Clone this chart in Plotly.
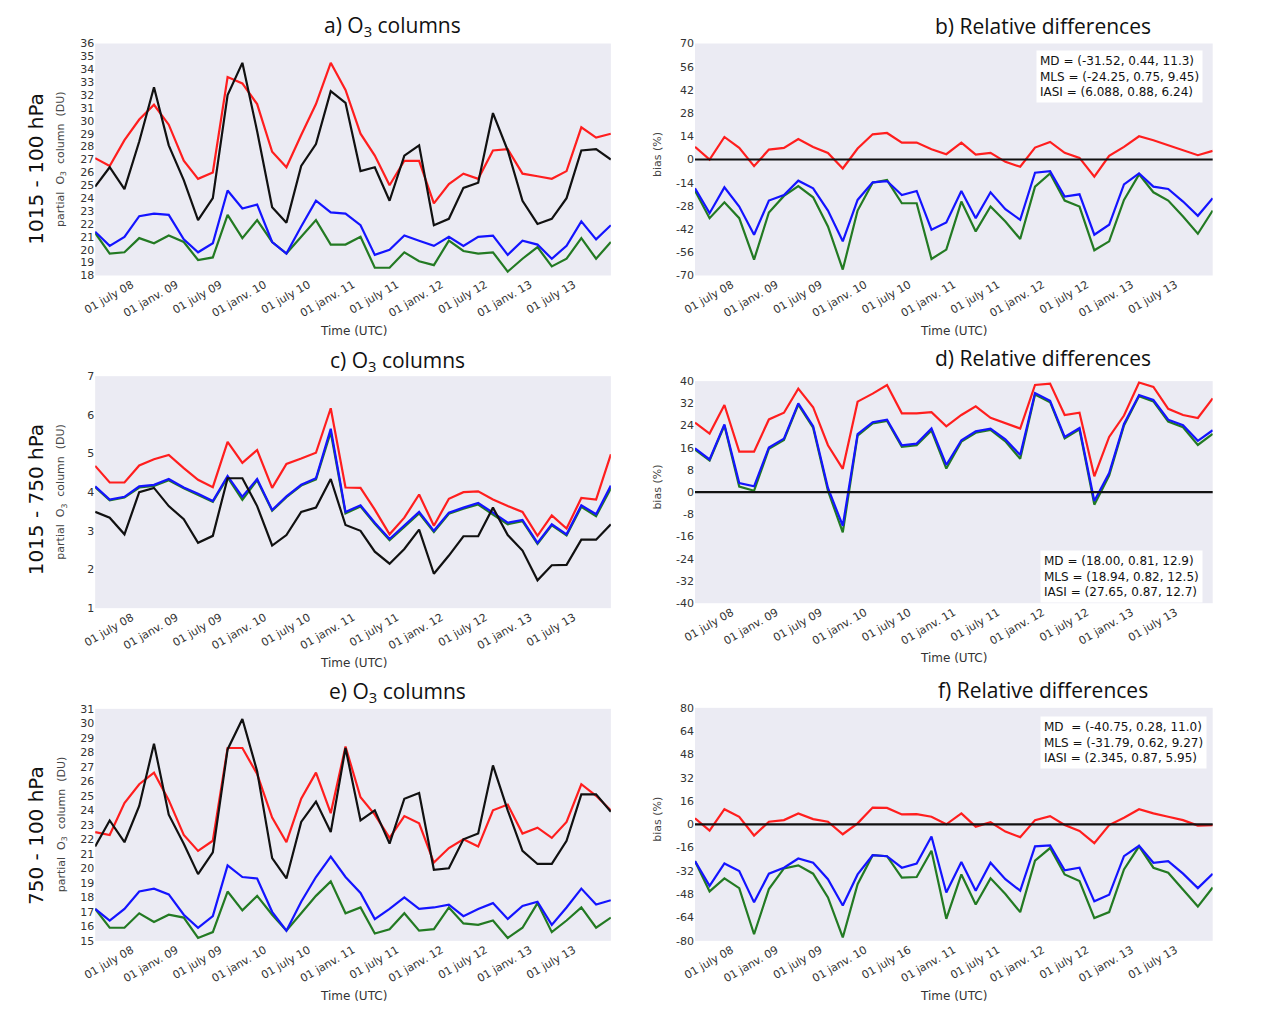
import plotly.graph_objects as go

# ---------------- data ----------------
dates = ["2008-02-01", "2008-04-01", "2008-06-01", "2008-08-01", "2008-10-01", "2008-12-01",
         "2009-02-01", "2009-04-01", "2009-06-01", "2009-08-01", "2009-10-01", "2009-12-01",
         "2010-02-01", "2010-04-01", "2010-06-01", "2010-08-01", "2010-10-01", "2010-12-01",
         "2011-02-01", "2011-04-01", "2011-06-01", "2011-08-01", "2011-10-01", "2011-12-01",
         "2012-02-01", "2012-04-01", "2012-06-01", "2012-08-01", "2012-10-01", "2012-12-01",
         "2013-02-01", "2013-04-01", "2013-06-01", "2013-08-01", "2013-10-01", "2013-12-01"]

tick_dates = ["2008-07-01", "2009-01-01", "2009-07-01", "2010-01-01", "2010-07-01", "2011-01-01",
              "2011-07-01", "2012-01-01", "2012-07-01", "2013-01-01", "2013-07-01"]
tick_labels = ["01 july 08", "01 janv. 09", "01 july 09", "01 janv. 10", "01 july 10", "01 janv. 11",
               "01 july 11", "01 janv. 12", "01 july 12", "01 janv. 13", "01 july 13"]
tick_labels_f = ["01 july 08", "01 janv. 09", "01 july 09", "01 janv. 10", "01 july 16", "01 janv. 11",
                 "01 july 11", "01 janv. 12", "01 july 12", "01 janv. 13", "01 july 13"]

# a) 1015-100 hPa O3 columns (DU)
a_sonde = [24.9, 26.4, 24.7, 28.4, 32.6, 28.1, 25.4, 22.3, 24.0, 32.0, 34.5, 29.2, 23.3, 22.1, 26.5, 28.2, 32.3, 31.4,
           26.1, 26.4, 23.8, 27.3, 28.1, 21.9, 22.4, 24.8, 25.2, 30.6, 27.7, 23.8, 22.0, 22.4, 24.0, 27.7, 27.8, 27.0]
a_iasi = [27.1, 26.5, 28.5, 30.1, 31.25, 29.7, 26.9, 25.5, 26.0, 33.4, 32.9, 31.3, 27.6, 26.4, 28.9, 31.3, 34.5, 32.4,
          29.0, 27.3, 25.0, 26.9, 26.9, 23.6, 25.1, 25.9, 25.5, 27.7, 27.8, 25.9, 25.7, 25.5, 26.1, 29.5, 28.7, 29.0]
a_mls = [21.4, 20.3, 21.0, 22.6, 22.8, 22.7, 20.8, 19.8, 20.5, 24.6, 23.2, 23.5, 20.6, 19.7, 21.8, 23.8, 22.9, 22.8,
         21.9, 19.6, 20.0, 21.1, 20.7, 20.3, 21.0, 20.3, 21.0, 21.1, 19.6, 20.7, 20.4, 19.3, 20.3, 22.2, 20.8, 21.9]
a_md = [21.3, 19.7, 19.8, 20.9, 20.5, 21.1, 20.6, 19.2, 19.4, 22.7, 20.9, 22.3, 20.6, 19.7, 21.0, 22.3, 20.4, 20.4,
        21.0, 18.6, 18.6, 19.8, 19.1, 18.8, 20.7, 19.9, 19.7, 19.8, 18.3, 19.3, 20.2, 18.7, 19.3, 20.9, 19.3, 20.6]

# b) relative differences (%)
b_iasi = [7.6, 0, 13.6, 7, -4, 6, 7, 12.4, 7.6, 4, -5.4, 6.6, 15.2, 16, 10.2, 10.2, 6.2, 3.2,
          10.2, 3, 4, -1.4, -4.4, 7.2, 10.6, 4, 1, -10.4, 2.2, 7.6, 14, 11.6, 8.6, 5.6, 2.6, 5.2]
b_mls = [-17.4, -32.4, -16.8, -28.4, -45.4, -24.8, -21.4, -12.8, -17.4, -30.8, -49.4, -24.4, -13.8, -13, -21.4, -19,
         -42.4, -38, -19, -35.4, -19.8, -30, -36.4, -8, -7, -22.4, -21, -45.4, -39.4, -15, -8.4, -16.4, -17.8,
         -25.4, -34, -23.4]
b_md = [-18.8, -35.4, -25.8, -35.4, -60.4, -32, -22, -16, -22.8, -40.4, -66.4, -30.8, -14, -12.4, -26.4, -26.4,
        -60, -54.4, -25.4, -43.4, -28.4, -37.4, -48, -16.4, -8.4, -24.8, -28.4, -54.8, -49.4, -24.4, -9, -19.8,
        -24.8, -34.4, -44.8, -30.8]

# c) 1015-750 hPa O3 columns (DU)
c_sonde = [3.49, 3.34, 2.91, 4.0, 4.11, 3.64, 3.3, 2.69, 2.87, 4.36, 4.36, 3.64, 2.62, 2.89, 3.49, 3.6, 4.34, 3.15,
           3.0, 2.46, 2.15, 2.53, 3.03, 1.89, 2.36, 2.86, 2.86, 3.6, 2.89, 2.49, 1.72, 2.11, 2.12, 2.77, 2.77, 3.17]
c_iasi = [4.68, 4.25, 4.25, 4.69, 4.85, 4.96, 4.62, 4.32, 4.13, 5.30, 4.76, 5.09, 4.11, 4.73, 4.87, 5.02, 6.17, 4.12,
          4.11, 3.55, 2.91, 3.34, 3.94, 3.13, 3.83, 4.0, 4.02, 3.81, 3.64, 3.49, 2.87, 3.4, 3.06, 3.85, 3.81, 4.98]
c_mls = [4.15, 3.81, 3.88, 4.15, 4.19, 4.34, 4.12, 3.96, 3.77, 4.42, 3.88, 4.34, 3.54, 3.89, 4.19, 4.36, 5.64, 3.49,
         3.66, 3.21, 2.79, 3.13, 3.49, 3.0, 3.47, 3.6, 3.72, 3.47, 3.21, 3.28, 2.69, 3.17, 2.91, 3.66, 3.43, 4.17]
c_md = [4.13, 3.79, 3.86, 4.12, 4.16, 4.31, 4.10, 3.93, 3.75, 4.38, 3.80, 4.31, 3.52, 3.87, 4.17, 4.33, 5.55, 3.45,
        3.63, 3.18, 2.76, 3.10, 3.45, 2.97, 3.44, 3.57, 3.68, 3.42, 3.17, 3.25, 2.66, 3.14, 2.88, 3.62, 3.38, 4.10]

# d) relative differences (%)
d_iasi = [25.0, 21.1, 31.4, 14.6, 14.6, 26.2, 28.6, 37.3, 30.6, 16.9, 8.4, 32.6, 35.5, 38.6, 28.4, 28.4, 28.8, 23.7,
          27.8, 30.9, 26.8, 24.9, 22.9, 38.6, 39.1, 27.8, 28.6, 5.7, 19.9, 27.6, 39.5, 37.9, 30.0, 27.8, 26.7, 33.8]
d_mls = [15.8, 11.8, 24.4, 3.3, 2.1, 16.1, 19.3, 32.0, 23.8, 1.5, -12.1, 20.9, 25.2, 26.1, 16.9, 17.5, 22.9, 9.8,
         18.7, 21.9, 22.9, 19.0, 13.4, 35.7, 32.9, 19.9, 23.1, -3.2, 6.9, 24.6, 35.0, 33.2, 26.1, 24.1, 18.5, 22.3]
d_md = [15.3, 11.4, 24.0, 2.0, 0.5, 15.6, 18.8, 31.5, 23.2, 0.5, -14.5, 20.4, 24.8, 25.7, 16.3, 16.9, 22.2, 8.5,
        18.2, 21.4, 22.4, 18.3, 12.0, 35.2, 32.4, 19.4, 22.6, -4.5, 6.0, 24.0, 34.6, 32.7, 25.4, 23.4, 17.0, 21.0]

# e) 750-100 hPa O3 columns (DU)
e_sonde = [21.5, 23.3, 21.8, 24.3, 28.6, 23.7, 21.7, 19.6, 21.1, 28.2, 30.3, 26.7, 20.7, 19.3, 23.2, 24.6, 22.5, 28.3,
           23.3, 24.0, 21.7, 24.8, 25.2, 19.9, 20.0, 22.0, 22.4, 27.1, 24.0, 21.2, 20.3, 20.3, 21.9, 25.1, 25.1, 23.9]
e_iasi = [22.5, 22.3, 24.5, 25.8, 26.6, 24.7, 22.3, 21.2, 21.9, 28.3, 28.3, 26.5, 23.5, 21.8, 24.8, 26.6, 23.8, 28.4,
          24.9, 23.7, 22.1, 23.6, 23.1, 20.4, 21.4, 22.0, 21.5, 24.0, 24.4, 22.4, 22.8, 22.1, 23.2, 25.8, 25.0, 24.0]
e_mls = [17.2, 16.4, 17.2, 18.4, 18.6, 18.2, 16.8, 15.9, 16.7, 20.2, 19.4, 19.3, 17.0, 15.7, 17.7, 19.4, 20.8, 19.4,
         18.3, 16.5, 17.2, 18.0, 17.2, 17.3, 17.5, 16.7, 17.2, 17.6, 16.5, 17.4, 17.7, 16.1, 17.3, 18.6, 17.5, 17.8]
e_md = [17.2, 15.9, 15.9, 16.9, 16.3, 16.8, 16.6, 15.2, 15.6, 18.4, 17.1, 18.1, 16.8, 15.7, 16.9, 18.1, 19.1, 16.9,
        17.3, 15.5, 15.8, 16.9, 15.7, 15.8, 17.3, 16.2, 16.1, 16.4, 15.2, 15.9, 17.6, 15.6, 16.4, 17.3, 15.9, 16.6]

# f) relative differences (%)
f_iasi = [4.1, -4.3, 10.4, 5.2, -7.7, 1.8, 2.9, 7.5, 3.6, 1.8, -6.8, 0.7, 11.5, 11.3, 6.8, 7.0, 5.2, 0,
          7.5, -1.6, 1.4, -5.0, -8.8, 2.9, 5.6, -0.5, -4.5, -12.9, -0.5, 4.5, 10.4, 7.5, 5.2, 2.9, -0.9, -0.5]
f_mls = [-25.3, -42.3, -26.9, -32.1, -53.6, -33.9, -29.8, -23.5, -26.4, -37.7, -55.8, -34.4, -21.2, -21.9, -29.8,
         -26.9, -8.4, -46.8, -25.8, -45.6, -26.4, -37.7, -45.6, -15.1, -14.5, -31.6, -29.8, -52.9, -48.4, -21.9,
         -14.7, -26.4, -25.3, -33.9, -43.8, -33.9]
f_md = [-25.3, -46.1, -37.1, -43.8, -75.5, -44.5, -30.3, -28.2, -33.9, -50.2, -77.7, -41.1, -21.2, -21.9, -36.6,
        -36.2, -18.1, -64.9, -34.4, -55.1, -37.1, -47.9, -60.3, -24.9, -16.3, -34.4, -38.9, -64.4, -60.3, -31.0,
        -15.1, -29.8, -33.2, -44.5, -56.5, -43.4]

stats_b = ["MD = (-31.52, 0.44, 11.3)", "MLS = (-24.25, 0.75, 9.45)", "IASI = (6.088, 0.88, 6.24)"]
stats_d = ["MD = (18.00, 0.81, 12.9)", "MLS = (18.94, 0.82, 12.5)", "IASI = (27.65, 0.87, 12.7)"]
stats_f = ["MD  = (-40.75, 0.28, 11.0)", "MLS = (-31.79, 0.62, 9.27)", "IASI = (2.345, 0.87, 5.95)"]

# ---------------- styling ----------------
W, H = 1280, 1010
RED, BLUE, GREEN, BLACK = "#ff1e1e", "#1414ff", "#237a23", "#111111"
BG = "#ebebf3"
TICKFONT = dict(family="DejaVu Sans", size=11, color="#333333")


def px(X):
    return X / W


def py(Y):
    return 1 - Y / H


def xd(p0, p1):
    return [px(p0), px(p1)]


def yd(p0, p1):
    return [py(p1), py(p0)]


panels = [
    dict(n=1, x=(83, 604), y=(38, 273), yr=[18, 36], yt=list(range(18, 37)), kind="col",
         series=[(a_md, GREEN, "MD"), (a_mls, BLUE, "MLS"), (a_iasi, RED, "IASI"), (a_sonde, BLACK, "Sondes")],
         title="a) O<sub>3</sub> columns", tx=383, ty=20, labels=tick_labels),
    dict(n=2, x=(689, 1212), y=(38, 273), yr=[-70, 70], yt=list(range(-70, 71, 14)), kind="rel",
         series=[(b_md, GREEN, "MD"), (b_mls, BLUE, "MLS"), (b_iasi, RED, "IASI")],
         title="b) Relative differences", tx=1041, ty=20, labels=tick_labels,
         stats=stats_b, sx=1202, sy=45, sanchor="top"),
    dict(n=3, x=(83, 604), y=(375, 610), yr=[1, 7], yt=list(range(1, 8)), kind="col",
         series=[(c_md, GREEN, "MD"), (c_mls, BLUE, "MLS"), (c_iasi, RED, "IASI"), (c_sonde, BLACK, "Sondes")],
         title="c) O<sub>3</sub> columns", tx=388, ty=360, labels=tick_labels),
    dict(n=4, x=(689, 1212), y=(380, 605), yr=[-40, 40], yt=list(range(-40, 41, 8)), kind="rel",
         series=[(d_md, GREEN, "MD"), (d_mls, BLUE, "MLS"), (d_iasi, RED, "IASI")],
         title="d) Relative differences", tx=1041, ty=357, labels=tick_labels,
         stats=stats_d, sx=1202, sy=605, sanchor="bottom"),
    dict(n=5, x=(83, 604), y=(712, 947), yr=[15, 31], yt=list(range(15, 32)), kind="col",
         series=[(e_md, GREEN, "MD"), (e_mls, BLUE, "MLS"), (e_iasi, RED, "IASI"), (e_sonde, BLACK, "Sondes")],
         title="e) O<sub>3</sub> columns", tx=388, ty=695, labels=tick_labels),
    dict(n=6, x=(689, 1212), y=(711, 947), yr=[-80, 80], yt=list(range(-80, 81, 16)), kind="rel",
         series=[(f_md, GREEN, "MD"), (f_mls, BLUE, "MLS"), (f_iasi, RED, "IASI")],
         title="f) Relative differences", tx=1041, ty=693, labels=tick_labels_f,
         stats=stats_f, sx=1206, sy=719, sanchor="top"),
]

fig = go.Figure()
annotations = []
shapes = []
layout = dict(width=W, height=H, margin=dict(l=0, r=0, t=0, b=0),
              paper_bgcolor="white", plot_bgcolor=BG, showlegend=False)

for p in panels:
    n = p["n"]
    sx = "" if n == 1 else str(n)
    xa, ya = "x" + sx, "y" + sx
    for vals, col, name in p["series"]:
        fig.add_trace(go.Scatter(x=dates, y=vals, mode="lines", name=name,
                                 line=dict(color=col, width=2.2), xaxis=xa, yaxis=ya,
                                 showlegend=False))
    layout["xaxis" + sx] = dict(domain=xd(*p["x"]), anchor=ya, type="date",
                                range=[dates[0], dates[-1]], tickmode="array",
                                tickvals=tick_dates, ticktext=p["labels"], tickangle=-30,
                                tickfont=TICKFONT, showgrid=False, zeroline=False,
                                showline=False, ticks="")
    layout["yaxis" + sx] = dict(domain=yd(*p["y"]), anchor=xa, range=p["yr"], tickmode="array",
                                tickvals=p["yt"], ticktext=[str(v) for v in p["yt"]],
                                tickfont=TICKFONT, showgrid=False, zeroline=False,
                                showline=False, ticks="")
    annotations.append(dict(text=p["title"], x=px(p["tx"]), y=py(p["ty"]), xref="paper",
                            yref="paper", showarrow=False, xanchor="center", yanchor="middle",
                            font=dict(family="Open Sans", size=21, color="#111111")))
    xc = (p["x"][0] + p["x"][1]) / 2
    annotations.append(dict(text="Time (UTC)", x=px(xc), y=py(p["y"][1] + 56),
                            xref="paper", yref="paper", showarrow=False,
                            xanchor="center", yanchor="middle",
                            font=dict(family="DejaVu Sans", size=12, color="#333333")))
    yc = (p["y"][0] + p["y"][1]) / 2
    if p["kind"] == "col":
        annotations.append(dict(text="partial  O<sub>3</sub>  column  (DU)", x=px(49), y=py(yc),
                                xref="paper", yref="paper", showarrow=False, textangle=-90,
                                xanchor="center", yanchor="middle",
                                font=dict(family="DejaVu Sans", size=11, color="#444444")))
    else:
        annotations.append(dict(text="bias (%)", x=px(651), y=py(yc - 5),
                                xref="paper", yref="paper", showarrow=False, textangle=-90,
                                xanchor="center", yanchor="middle",
                                font=dict(family="DejaVu Sans", size=11, color="#444444")))
        shapes.append(dict(type="line", xref=xa + " domain", yref=ya, x0=0, x1=1, y0=0, y1=0,
                           line=dict(color="#111111", width=2.2), layer="above"))
        annotations.append(dict(text="<br>".join(p["stats"]), x=px(p["sx"]), y=py(p["sy"]),
                                xref="paper", yref="paper", showarrow=False, align="left",
                                xanchor="right", yanchor=p["sanchor"], bgcolor="white",
                                borderpad=3,
                                font=dict(family="DejaVu Sans", size=12, color="#111111")))

row_labels = [("1015 - 100 hPa", 165), ("1015 - 750 hPa", 500), ("750 - 100 hPa", 840)]
for txt, yy in row_labels:
    annotations.append(dict(text=txt, x=px(23), y=py(yy), xref="paper", yref="paper",
                            showarrow=False, textangle=-90, xanchor="center", yanchor="middle",
                            font=dict(family="DejaVu Sans", size=20, color="#111111")))

layout["annotations"] = annotations
layout["shapes"] = shapes
fig.update_layout(**layout)
# remove the default 8 px page margin so the figure fills the 1280x1010 window exactly
fig.write_html("out.html", config={"displayModeBar": False},
               post_script="document.body.style.margin='0px';")
